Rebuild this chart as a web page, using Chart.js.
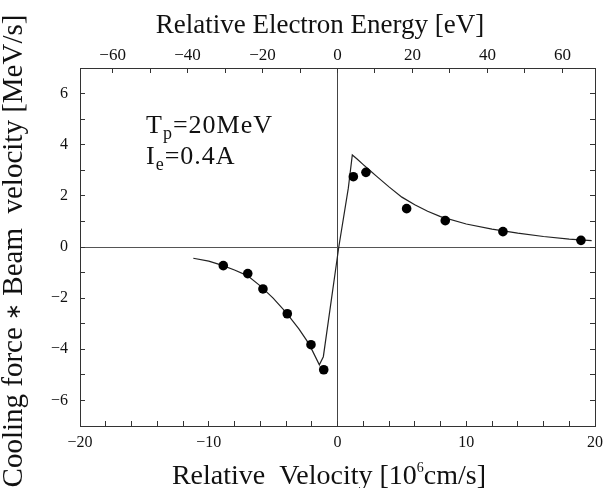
<!DOCTYPE html>
<html>
<head>
<meta charset="utf-8">
<script src="https://cdn.jsdelivr.net/npm/chart.js@4.4.0/dist/chart.umd.min.js"></script>
<style>
  html, body { margin: 0; padding: 0; background: #fff; }
</style>
</head>
<body>
<canvas id="chart" width="615" height="488"></canvas>
<script>
// measured points (velocity in 10^6 cm/s, force in MeV/s)
const pointVelocity = [-8.87, -6.97, -5.79, -3.90, -2.06, -1.07, 1.23, 2.21, 5.37, 8.37, 12.85, 18.91];
const pointForce = [-0.73, -1.04, -1.64, -2.61, -3.82, -4.80, 2.75, 2.92, 1.50, 1.03, 0.60, 0.26];

// calculated curve
const curveVelocity = [-11.2, -10, -9, -8, -7, -6, -5, -4, -3, -2.2, -1.41, -1.1, -0.71, 0.1, 0.84, 1.15, 1.5, 2.0, 2.5, 3.0, 4.0, 5.0, 6.0, 7.0, 8.0, 10.0, 12.0, 14.0, 16.0, 18.0, 19.74];
const curveForce = [-0.44, -0.55, -0.71, -0.9, -1.12, -1.52, -2.0, -2.56, -3.2, -3.8, -4.61, -4.29, -2.9, 0.0, 2.3, 3.6, 3.45, 3.22, 3.0, 2.78, 2.35, 1.95, 1.65, 1.4, 1.19, 0.9, 0.7, 0.54, 0.41, 0.31, 0.25];

const velocityTicks = [-20, -10, 0, 10, 20];
const forceTicks = [-6, -4, -2, 0, 2, 4, 6];
const energyTicks = [-60, -40, -20, 0, 20, 40, 60];
const energyLimit = 68.7; // eV at velocity +-20

const serif = '"Liberation Serif", "Times New Roman", serif';
const ink = '#111';
const axisColor = '#333';

const fmt = (v) => (v < 0 ? '\u2212' + Math.abs(v) : String(v));
const zeroLine = (color) => (c) => (c.tick && c.tick.value === 0 ? color : 'rgba(0,0,0,0)');

function drawParts(ctx, parts, x, y, align) {
  let total = 0;
  parts.forEach((p) => { ctx.font = `${p.size}px ${serif}`; total += ctx.measureText(p.text).width; });
  let cx = align === 'center' ? x - total / 2 : x;
  ctx.textAlign = 'left';
  parts.forEach((p) => {
    ctx.font = `${p.size}px ${serif}`;
    ctx.fillText(p.text, cx, y + (p.dy || 0));
    cx += ctx.measureText(p.text).width;
  });
}

const figureText = {
  id: 'figureText',
  afterDraw(chart) {
    const { ctx, chartArea, scales } = chart;
    ctx.save();
    ctx.fillStyle = ink;
    ctx.textBaseline = 'alphabetic';

    drawParts(ctx, [{ text: 'Relative Electron Energy [eV]', size: 27 }], chartArea.left + 240, 33, 'center');
    drawParts(ctx, [
      { text: 'Relative  Velocity [10', size: 28 },
      { text: '6', size: 14, dy: -12 },
      { text: 'cm/s]', size: 28 }
    ], chartArea.left + 249, chartArea.bottom + 58, 'center');

    ctx.save();
    ctx.translate(22, 251);
    ctx.rotate(-Math.PI / 2);
    drawParts(ctx, [
      { text: 'Cooling force ', size: 29 },
      { text: '\u2217', size: 20, dy: -2 },
      { text: ' Beam  velocity [MeV/s]', size: 29 }
    ], 0, 0, 'center');
    ctx.restore();

    ctx.letterSpacing = '1px';
    const ax = scales.x.getPixelForValue(-14.87);
    drawParts(ctx, [
      { text: 'T', size: 26 },
      { text: 'p', size: 18, dy: 6 },
      { text: '=20MeV', size: 26 }
    ], ax, scales.y.getPixelForValue(4.46), 'left');
    drawParts(ctx, [
      { text: 'I', size: 26 },
      { text: 'e', size: 18, dy: 6 },
      { text: '=0.4A', size: 26 }
    ], ax, scales.y.getPixelForValue(3.25), 'left');
    ctx.restore();
  }
};

const tickFont = (size) => ({ family: serif, size });

new Chart(document.getElementById('chart'), {
  type: 'scatter',
  data: {
    datasets: [
      {
        data: pointVelocity.map((v, i) => ({ x: v, y: pointForce[i] })),
        pointRadius: 4.8,
        pointBackgroundColor: '#000',
        pointBorderWidth: 0,
        showLine: false,
        order: 0
      },
      {
        data: curveVelocity.map((v, i) => ({ x: v, y: curveForce[i] })),
        showLine: true,
        pointRadius: 0,
        borderColor: '#222',
        borderWidth: 1.2,
        tension: 0,
        order: 1
      }
    ]
  },
  options: {
    responsive: false,
    devicePixelRatio: 1,
    animation: false,
    layout: { padding: 0 },
    plugins: { legend: { display: false }, tooltip: { enabled: false } },
    scales: {
      x: {
        type: 'linear', position: 'bottom', min: -20, max: 20,
        afterFit: (s) => { s.height = 62; },
        border: { display: true, color: axisColor, width: 1 },
        grid: { drawOnChartArea: true, color: zeroLine('#444'), tickColor: axisColor, tickLength: -5 },
        ticks: {
          stepSize: 2, includeBounds: false, autoSkip: false, maxRotation: 0, padding: 12,
          color: ink, font: tickFont(16),
          callback: (v) => (velocityTicks.includes(v) ? fmt(v) : '')
        }
      },
      xTop: {
        type: 'linear', position: 'top', min: -energyLimit, max: energyLimit,
        afterFit: (s) => { s.height = 68; },
        border: { display: true, color: axisColor, width: 1 },
        grid: { drawOnChartArea: false, tickColor: axisColor, tickLength: -5 },
        ticks: {
          stepSize: 10, includeBounds: false, autoSkip: false, maxRotation: 0, padding: 7,
          color: ink, font: tickFont(17),
          callback: (v) => (energyTicks.includes(v) ? fmt(v) : '')
        }
      },
      y: {
        type: 'linear', position: 'left', min: -7, max: 7,
        afterFit: (s) => { s.width = 80; },
        border: { display: true, color: axisColor, width: 1 },
        grid: { drawOnChartArea: true, color: zeroLine('#555'), tickColor: axisColor, tickLength: -5 },
        ticks: {
          stepSize: 1, includeBounds: false, autoSkip: false, padding: 17,
          color: ink, font: tickFont(16),
          callback: (v) => (forceTicks.includes(v) ? fmt(v) : '')
        }
      },
      yRight: {
        type: 'linear', position: 'right', min: -7, max: 7,
        afterFit: (s) => { s.width = 20; },
        border: { display: true, color: axisColor, width: 1 },
        grid: { drawOnChartArea: false, tickColor: axisColor, tickLength: -5 },
        ticks: { stepSize: 1, includeBounds: false, display: false }
      }
    }
  },
  plugins: [figureText]
});
</script>
</body>
</html>
